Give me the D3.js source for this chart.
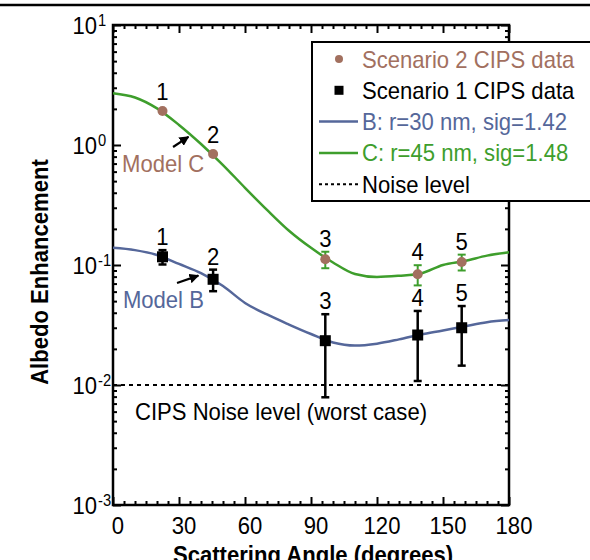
<!DOCTYPE html>
<html>
<head>
<meta charset="utf-8">
<script src="https://cdn.jsdelivr.net/npm/d3@7/dist/d3.min.js"></script>
<style>
  html, body { margin: 0; padding: 0; background: #fff; }
  svg { display: block; }
  text { font-family: "Liberation Sans", Arial, Helvetica, sans-serif; }
</style>
</head>
<body>
<svg id="chart" width="590" height="560"></svg>
<script>
// ---- data ----
const angles = [22.5, 45.5, 96.5, 138.5, 158.5];          // scattering angle (deg) of CIPS observations
const pointLabels = ["1", "2", "3", "4", "5"];

const scenario2 = [1.92, 0.84, 0.1115, 0.0836, 0.106];      // Scenario 2 CIPS data
const scenario2Err = [0.016, 0.016, 0.0175, 0.016, 0.016];
const scenario1 = [0.117, 0.076, 0.0234, 0.0261, 0.030];    // Scenario 1 CIPS data
const scenario1Err = [0.016, 0.0155, 0.0155, 0.0153, 0.0155];

const modelAngles = [0, 10, 20, 30, 40, 50, 60, 70, 80, 90, 100, 110, 120, 130, 140, 150, 160, 170, 180];
const modelB = [0.139, 0.133, 0.121, 0.102, 0.0855, 0.0668, 0.0483, 0.0387, 0.0319, 0.0266,
                0.0226, 0.0213, 0.0221, 0.0240, 0.0264, 0.0285, 0.0309, 0.0334, 0.0348];
const modelC = [2.70, 2.49, 2.02, 1.47, 1.02, 0.681, 0.440, 0.288, 0.193, 0.139,
                0.105, 0.0841, 0.0794, 0.0813, 0.0851, 0.100, 0.108, 0.1197, 0.1276];

const noiseLevel = 0.01;

const xTicks = [0, 30, 60, 90, 120, 150, 180];
const yTickExponents = [1, 0, -1, -2, -3];

const legendLabels = ["Scenario 2 CIPS data", "Scenario 1 CIPS data",
                      "B: r=30 nm, sig=1.42", "C: r=45 nm, sig=1.48", "Noise level"];

// ---- styling ----
const COL_S2 = "#a2705f";
const COL_B = "#55679a";
const COL_C = "#3e9e2c";
const FONT = 24;
const SQUISH = 0.92;

const svg = d3.select("#chart");
const L = 113, R = 509, T = 25, B = 505;

const x = d3.scaleLinear().domain([0, 180]).range([L, R]);
const y = d3.scaleLog().domain([1e-3, 1e1]).range([B, T]);

// condense glyphs horizontally
function squish(sel, f = SQUISH) {
  sel.each(function () {
    const w = this.getComputedTextLength();
    d3.select(this).attr("textLength", w * f).attr("lengthAdjust", "spacingAndGlyphs");
  });
  return sel;
}

// rule across the top of the figure
svg.append("line").attr("x1", 0).attr("x2", 590).attr("y1", 5).attr("y2", 5)
  .attr("stroke", "#000").attr("stroke-width", 2.5);

// ---- axes (ticks inward on all four sides) ----
const xMinor = d3.range(0, 181, 5);
const xAxisB = d3.axisBottom(x).tickValues(xMinor).tickFormat("").tickSizeInner(-4).tickSizeOuter(0);
const xAxisT = d3.axisTop(x).tickValues(xMinor).tickFormat("").tickSizeInner(-4).tickSizeOuter(0);
const yMinor = [];
for (let e = -3; e < 1; e++) for (let m = 1; m <= 9; m++) yMinor.push(m * Math.pow(10, e));
yMinor.push(10);
const yAxisL = d3.axisLeft(y).tickValues(yMinor).tickFormat("").tickSizeInner(-4).tickSizeOuter(0);
const yAxisR = d3.axisRight(y).tickValues(yMinor).tickFormat("").tickSizeInner(-4).tickSizeOuter(0);

function styleAxis(g) {
  g.select(".domain").remove();
  g.selectAll(".tick line").attr("stroke", "#000").attr("stroke-width", 2);
}
const gxb = svg.append("g").attr("transform", `translate(0,${B})`).call(xAxisB).call(styleAxis);
const gxt = svg.append("g").attr("transform", `translate(0,${T})`).call(xAxisT).call(styleAxis);
const gyl = svg.append("g").attr("transform", `translate(${L},0)`).call(yAxisL).call(styleAxis);
const gyr = svg.append("g").attr("transform", `translate(${R},0)`).call(yAxisR).call(styleAxis);

// longer major ticks
gxb.selectAll(".tick line").filter(d => d % 30 === 0).attr("y2", -8);
gxt.selectAll(".tick line").filter(d => d % 30 === 0).attr("y2", 8);
const isDecade = d => Math.abs(Math.log10(d) - Math.round(Math.log10(d))) < 1e-9;
gyl.selectAll(".tick line").filter(isDecade).attr("x2", 8);
gyr.selectAll(".tick line").filter(isDecade).attr("x2", -8);

// frame
svg.append("rect").attr("x", L).attr("y", T).attr("width", R - L).attr("height", B - T)
  .attr("fill", "none").attr("stroke", "#000").attr("stroke-width", 2.5);

// x tick labels
svg.append("g").selectAll("text").data(xTicks).join("text")
  .attr("x", d => x(d) + 5).attr("y", B + 29)
  .attr("text-anchor", "middle").attr("font-size", FONT).attr("fill", "#000")
  .text(d => d).call(squish);

// y tick labels: 10 with superscript exponent
const yl = svg.append("g");
yTickExponents.forEach(e => {
  const py = y(Math.pow(10, e));
  yl.append("text").attr("x", 97).attr("y", py + 9).attr("text-anchor", "end")
    .attr("font-size", FONT).text("10").call(squish);
  yl.append("text").attr("x", 98).attr("y", py + 1).attr("text-anchor", "start")
    .attr("font-size", 16).text(String(e)).call(squish);
});

// axis titles
svg.append("text").attr("x", (L + R) / 2 + 2).attr("y", 563).attr("text-anchor", "middle")
  .attr("font-size", FONT).attr("font-weight", "bold").text("Scattering Angle (degrees)").call(squish);
svg.append("text").attr("transform", `translate(48,${272}) rotate(-90)`).attr("text-anchor", "middle")
  .attr("font-size", FONT).attr("font-weight", "bold").text("Albedo Enhancement").call(squish);

// ---- noise level ----
svg.append("line").attr("x1", L).attr("x2", R).attr("y1", y(noiseLevel)).attr("y2", y(noiseLevel))
  .attr("stroke", "#000").attr("stroke-width", 2.2).attr("stroke-dasharray", "4,4");
svg.append("text").attr("x", x(10)).attr("y", y(noiseLevel) + 35).attr("font-size", FONT)
  .text("CIPS Noise level (worst case)").call(squish);

// ---- model curves ----
const line = d3.line().x((d, i) => x(modelAngles[i])).y(d => y(d)).curve(d3.curveMonotoneX);
svg.append("path").datum(modelC).attr("d", line).attr("fill", "none")
  .attr("stroke", COL_C).attr("stroke-width", 2.5);
svg.append("path").datum(modelB).attr("d", line).attr("fill", "none")
  .attr("stroke", COL_B).attr("stroke-width", 2.5);

// ---- data points with error bars ----
function errorBars(vals, errs, color, width) {
  const g = svg.append("g").attr("stroke", color).attr("stroke-width", width);
  vals.forEach((v, i) => {
    const cx = x(angles[i]);
    const y0 = y(v + errs[i]), y1 = y(v - errs[i]);
    g.append("line").attr("x1", cx).attr("x2", cx).attr("y1", y0).attr("y2", y1);
    g.append("line").attr("x1", cx - 4).attr("x2", cx + 4).attr("y1", y0).attr("y2", y0);
    g.append("line").attr("x1", cx - 4).attr("x2", cx + 4).attr("y1", y1).attr("y2", y1);
  });
}
errorBars(scenario2, scenario2Err, COL_C, 2);
errorBars(scenario1, scenario1Err, "#000", 2.5);

svg.append("g").selectAll("circle").data(scenario2).join("circle")
  .attr("cx", (d, i) => x(angles[i])).attr("cy", d => y(d)).attr("r", 5).attr("fill", COL_S2);
svg.append("g").selectAll("rect").data(scenario1).join("rect")
  .attr("x", (d, i) => x(angles[i]) - 5.5).attr("y", d => y(d) - 5.5)
  .attr("width", 11).attr("height", 11).attr("fill", "#000");

// point numbers above each observation
function numberLabels(vals, errs) {
  svg.append("g").selectAll("text").data(vals).join("text")
    .attr("x", (d, i) => x(angles[i]))
    .attr("y", (d, i) => Math.min(y(d + errs[i]), y(d) - 6) - 5)
    .attr("text-anchor", "middle").attr("font-size", FONT).attr("fill", "#000")
    .text((d, i) => pointLabels[i]).call(squish);
}
numberLabels(scenario2, scenario2Err);
numberLabels(scenario1, scenario1Err);

// ---- model annotations with arrows ----
svg.append("defs").append("marker").attr("id", "arrow").attr("viewBox", "0 0 10 10")
  .attr("refX", 9).attr("refY", 5).attr("markerWidth", 4.5).attr("markerHeight", 4.5)
  .attr("orient", "auto").append("path").attr("d", "M0,0 L10,5 L0,10 Z").attr("fill", "#000");

const annotations = [
  { text: "Model C", color: COL_S2, tx: 4.1, ty: 0.596, from: [27.3, 0.962], to: [34.3, 1.17] },
  { text: "Model B", color: COL_B, tx: 4.5, ty: 0.0438, from: [29.1, 0.0708], to: [38.8, 0.0815] }
];
annotations.forEach(a => {
  svg.append("text").attr("x", x(a.tx)).attr("y", y(a.ty)).attr("font-size", FONT)
    .attr("fill", a.color).text(a.text).call(squish);
  svg.append("line").attr("x1", x(a.from[0])).attr("y1", y(a.from[1]))
    .attr("x2", x(a.to[0])).attr("y2", y(a.to[1]))
    .attr("stroke", "#000").attr("stroke-width", 2.2).attr("marker-end", "url(#arrow)");
});

// ---- legend ----
const lg = svg.append("g");
lg.append("rect").attr("x", 312).attr("y", 42).attr("width", 300).attr("height", 159)
  .attr("fill", "#fff").attr("stroke", "#000").attr("stroke-width", 2);
const rowY = i => 59 + i * 31.3;
const legendColors = [COL_S2, "#000", COL_B, COL_C, "#000"];
lg.append("circle").attr("cx", 339).attr("cy", rowY(0)).attr("r", 4).attr("fill", COL_S2);
lg.append("rect").attr("x", 334.5).attr("y", rowY(1) - 4.5).attr("width", 9).attr("height", 9).attr("fill", "#000");
lg.append("line").attr("x1", 319).attr("x2", 358).attr("y1", rowY(2)).attr("y2", rowY(2))
  .attr("stroke", COL_B).attr("stroke-width", 2.5);
lg.append("line").attr("x1", 319).attr("x2", 358).attr("y1", rowY(3)).attr("y2", rowY(3))
  .attr("stroke", COL_C).attr("stroke-width", 2.5);
lg.append("line").attr("x1", 319).attr("x2", 358).attr("y1", rowY(4)).attr("y2", rowY(4))
  .attr("stroke", "#000").attr("stroke-width", 2).attr("stroke-dasharray", "3,3");
lg.selectAll("text.lab").data(legendLabels).join("text").attr("class", "lab")
  .attr("x", 362).attr("y", (d, i) => rowY(i) + 8.5).attr("font-size", FONT)
  .attr("fill", (d, i) => legendColors[i]).text(d => d).call(squish);
</script>
</body>
</html>
